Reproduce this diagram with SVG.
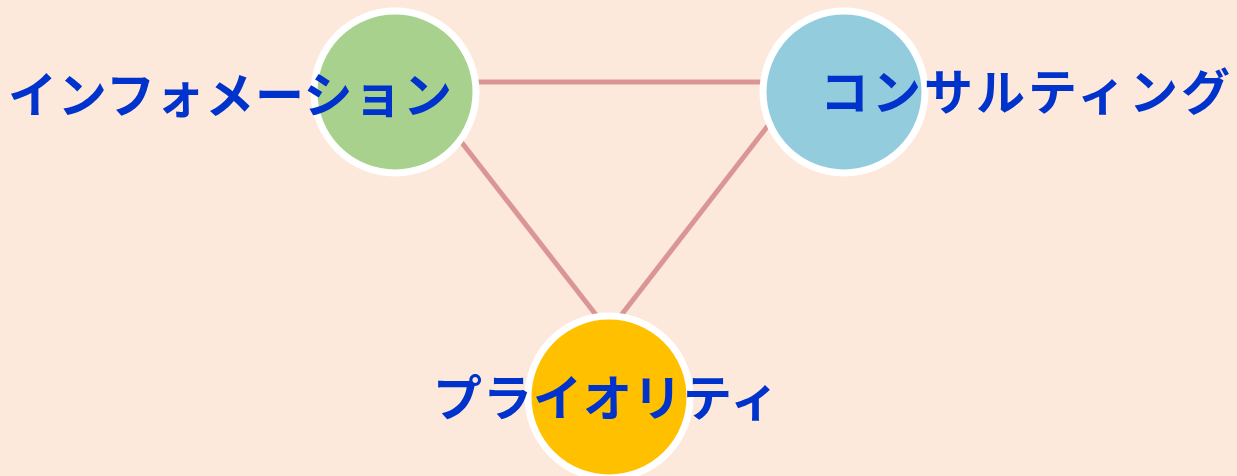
<svg xmlns="http://www.w3.org/2000/svg" width="1237" height="476" viewBox="0 0 1237 476">
<style>
.bg{fill:#FDE9DB}
.conn{stroke:#D99694;stroke-width:5;fill:none;stroke-linecap:butt}
.node{stroke:#FFFFFF;stroke-width:7}
.lbl{font-family:"Noto Sans CJK JP","Noto Sans",sans-serif;font-weight:700;font-size:49px;fill:#0033CC;dominant-baseline:central}
</style>
<rect class="bg" x="0" y="0" width="1237" height="476"/>
<g id="connectors">
<line class="conn" x1="470" y1="82" x2="766" y2="82"/>
<line class="conn" x1="459" y1="139" x2="600" y2="320"/>
<line class="conn" x1="770" y1="123" x2="619" y2="318"/>
</g>
<g id="node-information">
<circle class="node" cx="395" cy="92" r="81" fill="#A9D18E"/>
<text class="lbl" x="8" y="91" textLength="444" lengthAdjust="spacing">インフォメーション</text>
</g>
<g id="node-consulting">
<circle class="node" cx="844" cy="92" r="81" fill="#93CDDD"/>
<text class="lbl" x="820" y="88" textLength="410" lengthAdjust="spacing">コンサルティング</text>
</g>
<g id="node-priority">
<circle class="node" cx="609" cy="397" r="81" fill="#FFC000"/>
<text class="lbl" x="433" y="394" textLength="346" lengthAdjust="spacing">プライオリティ</text>
</g>
</svg>
